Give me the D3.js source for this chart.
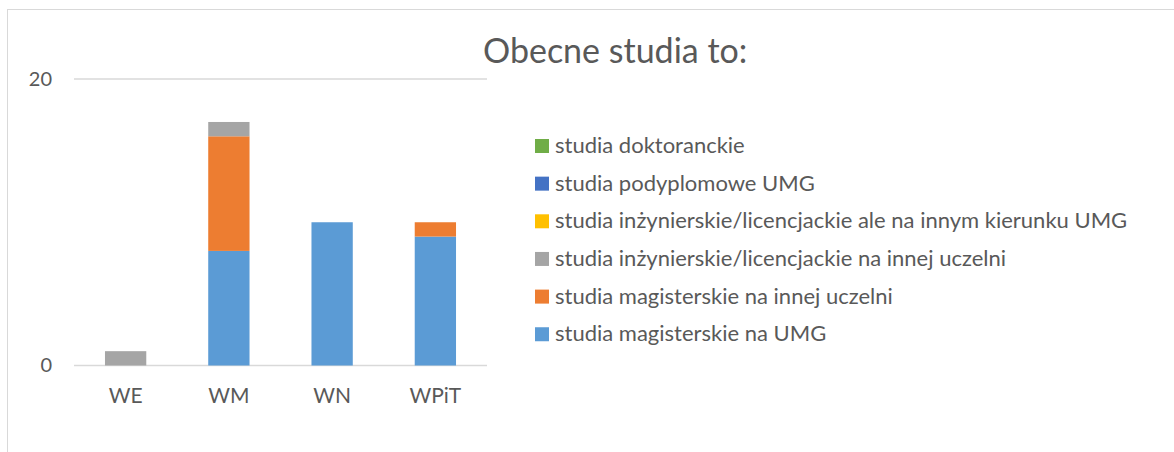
<!DOCTYPE html>
<html>
<head>
<meta charset="utf-8">
<script src="https://cdn.jsdelivr.net/npm/d3@7"></script>
<style>
  body { margin: 0; background: #fff; }
  #chart { width: 1174px; height: 452px; }
  text { font-family: Lato, "Open Sans", sans-serif; fill: #595959; }
</style>
</head>
<body>
<div id="chart"></div>
<script>
var width = 1174;
var height = 452;
var margin = {top: 79, left: 74, right: 687, bottom: 86.5};

// data
var categories = ["WE", "WM", "WN", "WPiT"];
var seriesNames = [
    "studia magisterskie na UMG",
    "studia magisterskie na innej uczelni",
    "studia inżynierskie/licencjackie na innej uczelni",
    "studia inżynierskie/licencjackie ale na innym kierunku UMG",
    "studia podyplomowe UMG",
    "studia doktoranckie"
];
var magisterskieUMG = [0, 8, 10, 9];
var magisterskieInna = [0, 8, 0, 1];
var inzynierskieInna = [1, 1, 0, 0];
var inzynierskieKierunek = [0, 0, 0, 0];
var podyplomowe = [0, 0, 0, 0];
var doktoranckie = [0, 0, 0, 0];
var yTicks = [0, 20];
var seriesColors = ["#5b9bd5", "#ed7d31", "#a5a5a5", "#ffc000", "#4472c4", "#70ad47"];

var seriesValues = [magisterskieUMG, magisterskieInna, inzynierskieInna, inzynierskieKierunek, podyplomowe, doktoranckie];

// table for the stack
var table = categories.map(function(c, i) {
    var row = {cat: c};
    seriesNames.forEach(function(s, j) { row[s] = seriesValues[j][i]; });
    return row;
});
var stacked = d3.stack().keys(seriesNames)(table);

var svg = d3.select("#chart")
    .append("svg")
    .attr("width", width)
    .attr("height", height);

// chart frame (cut by the window on the right and bottom)
svg.append("rect")
    .attr("x", 7.5)
    .attr("y", 9.5)
    .attr("width", 1200)
    .attr("height", 500)
    .attr("fill", "none")
    .attr("stroke", "#d9d9d9")
    .attr("stroke-width", 1);

var xScale = d3.scaleBand()
    .domain(categories)
    .range([margin.left, width - margin.right])
    .paddingInner(0.6)
    .paddingOuter(0.3);

var yScale = d3.scaleLinear()
    .domain([0, 20])
    .range([height - margin.bottom, margin.top]);

// gridlines
svg.append("g")
    .selectAll("line")
    .data(yTicks)
    .enter()
    .append("line")
    .attr("x1", margin.left)
    .attr("x2", width - margin.right)
    .attr("y1", function(d) { return yScale(d); })
    .attr("y2", function(d) { return yScale(d); })
    .attr("stroke", "#d9d9d9")
    .attr("stroke-width", 1.5);

// bars
svg.append("g")
    .selectAll("g")
    .data(stacked)
    .enter()
    .append("g")
    .attr("fill", function(d, i) { return seriesColors[i]; })
    .selectAll("rect")
    .data(function(d) { return d; })
    .enter()
    .append("rect")
    .attr("x", function(d) { return xScale(d.data.cat); })
    .attr("y", function(d) { return yScale(d[1]); })
    .attr("width", xScale.bandwidth())
    .attr("height", function(d) { return yScale(d[0]) - yScale(d[1]); });

// y axis labels
var yAxis = svg.append("g")
    .attr("transform", "translate(" + (margin.left - 22) + ",0)")
    .call(d3.axisLeft(yScale).tickValues(yTicks).tickSize(0).tickPadding(0));
yAxis.select(".domain").remove();
yAxis.selectAll("text")
    .style("font-size", "20px")
    .style("font-family", "Lato, sans-serif")
    .attr("fill", "#595959");

// x axis labels
var xAxis = svg.append("g")
    .attr("transform", "translate(0," + (height - margin.bottom) + ")")
    .call(d3.axisBottom(xScale).tickSize(0).tickPadding(23));
xAxis.select(".domain").remove();
xAxis.selectAll("text")
    .style("font-size", "21px")
    .style("font-family", "Lato, sans-serif")
    .attr("fill", "#595959");

// title
svg.append("text")
    .attr("x", 483)
    .attr("y", 63)
    .style("font-size", "34px")
    .text("Obecne studia to:");

// legend, top to bottom is reversed stack order
var legendItems = seriesNames.map(function(s, i) { return {name: s, color: seriesColors[i]}; }).reverse();
var legend = svg.append("g")
    .selectAll("g")
    .data(legendItems)
    .enter()
    .append("g")
    .attr("transform", function(d, i) { return "translate(535," + (153 + i * 37.65) + ")"; });

legend.append("rect")
    .attr("x", 0)
    .attr("y", -14)
    .attr("width", 14)
    .attr("height", 14)
    .attr("fill", function(d) { return d.color; });

legend.append("text")
    .attr("x", 20)
    .attr("y", 0)
    .style("font-size", "22px")
    .text(function(d) { return d.name; });
</script>
</body>
</html>
